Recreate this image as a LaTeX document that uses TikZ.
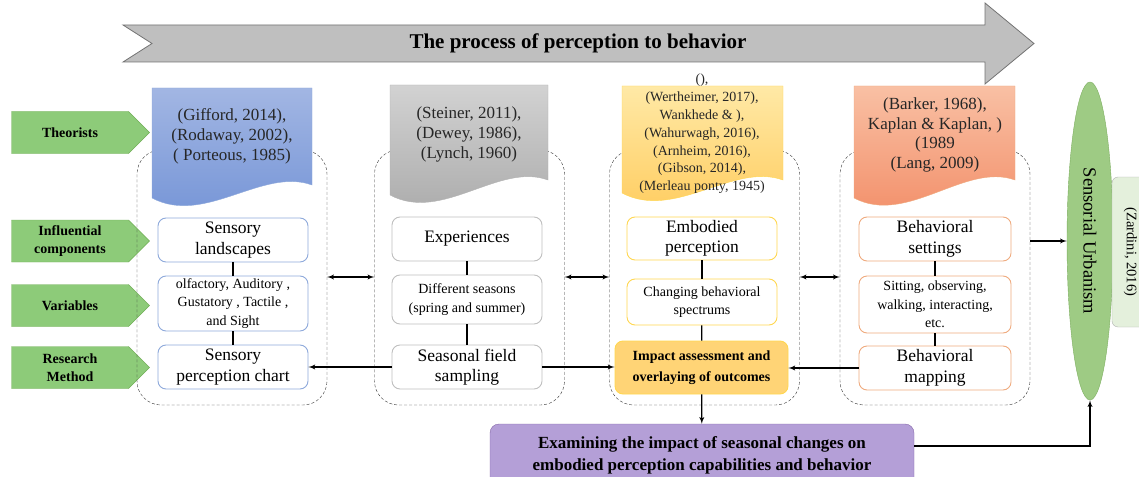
\documentclass[tikz,border=0pt]{standalone}
\usepackage{fontspec}
\setmainfont{Liberation Serif}
\usepackage{tikz}
\usetikzlibrary{arrows, positioning, shapes}
\definecolor{arrowgray}{HTML}{BFBFBF}
\definecolor{taggreen}{HTML}{8DCB79}
\definecolor{tagedge}{HTML}{72AE57}
\definecolor{blueedge}{HTML}{8EA9DB}
\definecolor{bluetop}{HTML}{A2B6E3}
\definecolor{bluebot}{HTML}{7393D6}
\definecolor{graytop}{HTML}{D2D2D2}
\definecolor{graybot}{HTML}{A9A9A9}
\definecolor{yellowtop}{HTML}{FFE9A6}
\definecolor{yellowbot}{HTML}{FFCB5C}
\definecolor{yellowedge}{HTML}{FFD750}
\definecolor{orangetop}{HTML}{F9C0A4}
\definecolor{orangebot}{HTML}{F28C66}
\definecolor{orangeedge}{HTML}{EFAA7E}
\definecolor{impfill}{HTML}{FFD476}
\definecolor{purplefill}{HTML}{B49FD7}
\definecolor{purpleedge}{HTML}{8467A8}
\definecolor{ellgreen}{HTML}{9ECB84}
\definecolor{elledge}{HTML}{7DAE60}
\definecolor{palegreen}{HTML}{E4F0DC}
\tikzstyle{sidetag} = [draw=tagedge, fill=taggreen, signal, signal to=east, minimum width=138pt, minimum height=42pt, inner sep=0pt, align=center, font=\fontsize{14}{18}\selectfont\bfseries]
\tikzstyle{lane} = [draw=black!80, dashed, dash pattern=on 3pt off 2pt, rounded corners=24pt, minimum width=190pt, minimum height=255pt]
\tikzstyle{inbox} = [draw, fill=white, rounded corners=8pt, minimum width=150pt, align=center, inner sep=1pt, line width=0.9pt]
\tikzstyle{cite} = [align=center, text=black!85]
\tikzstyle{arrow} = [arrows=->, black, line width=1.3pt]
\tikzstyle{link} = [black, line width=1.3pt]
\newcommand{\fbig}{\fontsize{17.5}{20.5}\selectfont}
\newcommand{\fsmall}{\fontsize{14}{18.5}\selectfont}
% document shape: style, left, right, top, right bottom, left bottom
\newcommand{\paper}[6]{%
  \path[#1] (#2,#4) -- (#3,#4) -- (#3,#5)
    .. controls ({#3-0.31*(#3-#2)},{#5-18}) and ({#2+0.33*(#3-#2)},{#6+28}) .. (#2,#6) -- cycle;}

\begin{document}
\begin{tikzpicture}[x=1pt, y=-1pt, >=latex']
    \useasboundingbox (0,0) rectangle (1139,476);

    % The process arrow
    \path[draw=black!55, fill=arrowgray, line width=0.8pt]
      (123,25) -- (985,25) -- (985,3) -- (1034,43.5) -- (985,84) -- (985,62) -- (123,62) -- (152,43.5) -- cycle;
    \node[font=\fontsize{21}{24}\selectfont\bfseries] (title) at (578,43) {The process of perception to behavior};

    % Place the tags
    \node [sidetag] (theo) at (70,132.5) {Theorists};
    \node [sidetag] (infl) at (70,241) {Influential\\components};
    \node [sidetag] (vars) at (70,305.5) {Variables};
    \node [sidetag] (meth) at (70,367.5) {Research\\Method};

    % Dashed lanes
    \node [lane] (c1) at (232,277.5) {};
    \node [lane] (c2) at (469.5,277.5) {};
    \node [lane] (c3) at (704.5,277.5) {};
    \node [lane] (c4) at (935,277.5) {};

    % Theorist documents
    \paper{draw=blueedge, top color=bluetop, bottom color=bluebot}{152}{312}{88}{185}{198}
    \node [cite, font=\fontsize{17}{20}\selectfont] (d1) at (232,136) {(Gifford, 2014),\\(Rodaway, 2002),\\( Porteous, 1985)};
    \paper{draw=black!30, top color=graytop, bottom color=graybot}{390}{548}{85}{180}{195}
    \node [cite, font=\fontsize{17}{20}\selectfont] (d2) at (469,134) {(Steiner, 2011),\\(Dewey, 1986),\\(Lynch, 1960)};
    \paper{draw=yellowedge, top color=yellowtop, bottom color=yellowbot}{622}{783}{86}{180}{193}
    \node [cite, font=\fontsize{14}{17.8}\selectfont] (d3) at (702,134) {(),\\(Wertheimer, 2017),\\Wankhede \& ),\\(Wahurwagh, 2016),\\(Arnheim, 2016),\\(Gibson, 2014),\\(Merleau ponty, 1945)};
    \paper{draw=orangeedge, top color=orangetop, bottom color=orangebot}{854}{1015}{86}{180}{198}
    \node [cite, font=\fontsize{17}{19.5}\selectfont] (d4) at (935,135) {(Barker, 1968),\\Kaplan \& Kaplan, )\\(1989\\(Lang, 2009)};

    % Place the blocks
    \node [inbox, draw=blueedge, minimum height=44pt, font=\fbig] (s1a) at (233,240) {Sensory\\landscapes};
    \node [inbox, draw=blueedge, minimum height=55pt, font=\fsmall] (s1b) at (233,303.5) {olfactory, Auditory ,\\Gustatory , Tactile ,\\and Sight};
    \node [inbox, draw=blueedge, minimum height=44pt, font=\fbig] (s1c) at (233,367) {Sensory\\perception chart};

    \node [inbox, draw=black!25, minimum height=44pt, font=\fbig] (s2a) at (467,239) {Experiences};
    \node [inbox, draw=black!25, minimum height=49pt, font=\fsmall] (s2b) at (467,299.5) {Different seasons\\(spring and summer)};
    \node [inbox, draw=black!25, minimum height=44pt, font=\fbig] (s2c) at (467,367) {Seasonal field\\sampling};

    \node [inbox, draw=yellowedge, minimum height=43pt, font=\fbig] (s3a) at (702,238.5) {Embodied\\perception};
    \node [inbox, draw=yellowedge, minimum height=46pt, font=\fsmall] (s3b) at (702,302) {Changing behavioral\\spectrums};
    \node [inbox, draw=yellowedge, fill=impfill, minimum width=173pt, minimum height=53pt, font=\fontsize{14}{21}\selectfont\bfseries] (s3c) at (701.5,367.5) {Impact assessment and\\overlaying of outcomes};

    \node [inbox, draw=orangeedge, minimum width=152pt, minimum height=44pt, font=\fbig] (s4a) at (935,239) {Behavioral\\settings};
    \node [inbox, draw=orangeedge, minimum width=152pt, minimum height=57pt, font=\fsmall] (s4b) at (935,304.5) {Sitting, observing,\\walking, interacting,\\etc.};
    \node [inbox, draw=orangeedge, minimum width=152pt, minimum height=44pt, font=\fbig] (s4c) at (935,368) {Behavioral\\mapping};

    \node [draw=purpleedge, fill=purplefill, rounded corners=9pt, minimum width=424pt, minimum height=62pt, align=center, font=\fontsize{17}{22}\selectfont\bfseries] (exam) at (702,455) {Examining the impact of seasonal changes on\\embodied perception capabilities and behavior};

    \node [draw=elledge, fill=ellgreen, ellipse, minimum width=46pt, minimum height=318pt] (ell) at (1090,241) {};
    \node [rotate=-90, font=\fontsize{18.5}{22}\selectfont] (urb) at (ell) {Sensorial Urbanism};
    \node [draw=black!30, fill=palegreen, rounded corners=6pt, rotate=-90, minimum width=150pt, minimum height=40pt, text depth=0pt, font=\fontsize{14.5}{17}\selectfont] (zard) at (1132,252) {\hspace*{0pt}(Zardini, 2016)};

    % Connect the nodes
    \coordinate (mid) at (0,277);
    \coordinate (turn) at (0,446);
    \foreach \a/\b in {s1a/s1b, s1b/s1c, s2a/s2b, s2b/s2c, s3a/s3b, s3b/s3c, s4a/s4b, s4b/s4c}
      \draw [link] (\a) -- (\b);
    \draw [arrow, <->] (c1.east |- mid) -- (c2.west |- mid);
    \draw [arrow, <->] (c2.east |- mid) -- (c3.west |- mid);
    \draw [arrow, <->] (c3.east |- mid) -- (c4.west |- mid);
    \draw [arrow] (s2c.west) -- (s1c.east);
    \draw [arrow] (s2c.east) -- (s2c.east -| s3c.west);
    \draw [arrow] (s4c.west) -- (s4c.west -| s3c.east);
    \draw [arrow] (s3c) -- (exam);
    \draw [arrow] (c4.east |- ell.west) -- (ell.west);
    \draw [arrow] (exam.east |- turn) -| (ell.south);
\end{tikzpicture}
\end{document}
